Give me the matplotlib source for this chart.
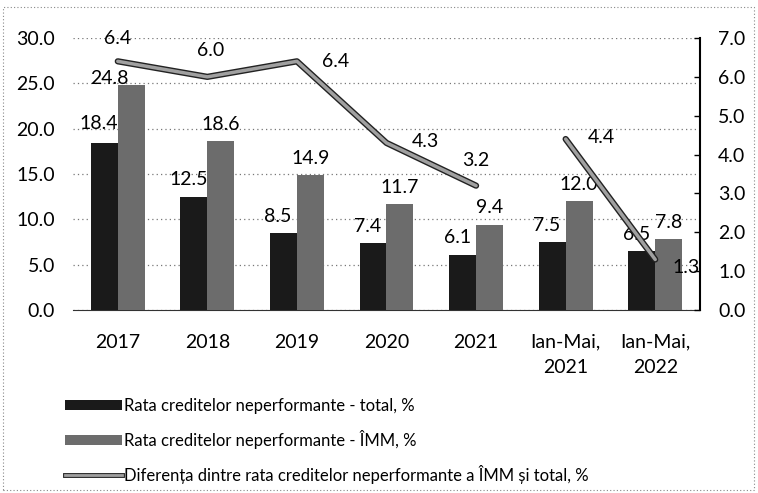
import matplotlib
matplotlib.use("Agg")
import matplotlib.pyplot as plt
import matplotlib.patheffects as pe
from matplotlib.patches import Rectangle, Patch
from matplotlib.lines import Line2D
import numpy as np

plt.rcParams['font.family'] = ['Lato', 'DejaVu Sans']

categories = ["2017", "2018", "2019", "2020", "2021", "Ian-Mai,\n2021", "Ian-Mai,\n2022"]
total = [18.4, 12.5, 8.5, 7.4, 6.1, 7.5, 6.5]
imm = [24.8, 18.6, 14.9, 11.7, 9.4, 12.0, 7.8]
diff = [6.4, 6.0, 6.4, 4.3, 3.2, 4.4, 1.3]
left_ticks = [0, 5, 10, 15, 20, 25, 30]
right_ticks = [0, 1, 2, 3, 4, 5, 6, 7]

legend_labels = ["Rata creditelor neperformante - total, %",
                 "Rata creditelor neperformante - ÎMM, %",
                 "Diferența dintre rata creditelor neperformante a ÎMM și total, %"]

W, H = 758, 493
fig = plt.figure(figsize=(W / 100, H / 100), dpi=100)
ax = fig.add_axes([73 / W, 1 - 310 / H, (700 - 73) / W, 272 / H])

x = np.arange(len(categories))
bw = 0.30
c_dark = "#1a1a1a"
c_gray = "#6c6c6c"
ax.bar(x - bw / 2, total, bw, color=c_dark, zorder=3)
ax.bar(x + bw / 2, imm, bw, color=c_gray, zorder=3)
ax.set_xlim(-0.5, len(categories) - 0.5)
ax.set_ylim(0, 30)
ax.set_yticks(left_ticks)
ax.set_yticklabels([f"{v:.1f}" for v in left_ticks])
ax.set_xticks(x)
ax.set_xticklabels(categories, linespacing=1.6)
for s in ["left", "top", "right"]:
    ax.spines[s].set_visible(False)
ax.spines["bottom"].set_linestyle((0, (1, 1)))
ax.spines["bottom"].set_color("#333333")
ax.tick_params(axis="y", length=0, pad=13, labelsize=14)
ax.tick_params(axis="x", length=0, pad=17, labelsize=14)
ax.yaxis.grid(True, linestyle=(0, (1, 2.5)), color="#777777", linewidth=0.9, zorder=0)
ax.set_axisbelow(True)

total_off = [(-4, 8), (-4, 6), (-4, 6), (-4, 6), (-4, 6), (-4, 6), (-4, 6)]
imm_off = [(-16, -1), (0, 6), (0, 6), (0, 6), (0, 6), (0, 6), (0, 6)]
for xi, v, off in zip(x, total, total_off):
    ax.annotate(f"{v:.1f}", (xi - bw / 2, v), xytext=off, textcoords="offset points",
                ha="center", va="bottom", fontsize=14, zorder=5)
for xi, v, off in zip(x, imm, imm_off):
    ax.annotate(f"{v:.1f}", (xi + bw / 2, v), xytext=off, textcoords="offset points",
                ha="center", va="bottom", fontsize=14, zorder=5)

ax2 = ax.twinx()
ax2.set_ylim(0, 7)
ax2.set_yticks(right_ticks)
ax2.set_yticklabels([f"{v:.1f}" for v in right_ticks])
for s in ["left", "top", "bottom"]:
    ax2.spines[s].set_visible(False)
ax2.spines["right"].set_color("black")
ax2.spines["right"].set_linewidth(1.5)
ax2.tick_params(axis="y", direction="in", length=4, width=1, pad=13, labelsize=14)

peff = [pe.Stroke(linewidth=4.5, foreground="#222222"), pe.Normal()]
for sl in (slice(0, 5), slice(5, 7)):
    ax2.plot(x[sl], diff[sl], color="#a0a0a0", linewidth=2.5, zorder=4,
             path_effects=peff, solid_capstyle="round")

offsets = [(0, 10), (2, 13), (28, 0), (28, 1), (0, 12), (26, 1), (22, -6)]
for xi, v, off in zip(x, diff, offsets):
    ax2.annotate(f"{v:.1f}", (xi, v), xytext=off, textcoords="offset points",
                 ha="center", va="center" if off[1] <= 1 else "bottom", fontsize=14, zorder=5)

handles = [Patch(facecolor=c_dark), Patch(facecolor=c_gray),
           Line2D([0], [0], color="#a0a0a0", linewidth=2.0,
                  path_effects=[pe.Stroke(linewidth=3.5, foreground="#222222"), pe.Normal()])]
fig.legend(handles, legend_labels, loc="upper left", bbox_to_anchor=(50 / W, 1 - 383 / H),
           frameon=False, fontsize=12, handlelength=3.4, handleheight=0.6,
           handletextpad=0.15, labelspacing=0.95)

fig.patches.append(Rectangle((3 / W, 3 / H), (W - 7) / W, (H - 10) / H,
                             transform=fig.transFigure, fill=False,
                             linestyle=(0, (1, 2)), edgecolor="#888888", linewidth=0.8))

fig.savefig("out.png", dpi=100)
